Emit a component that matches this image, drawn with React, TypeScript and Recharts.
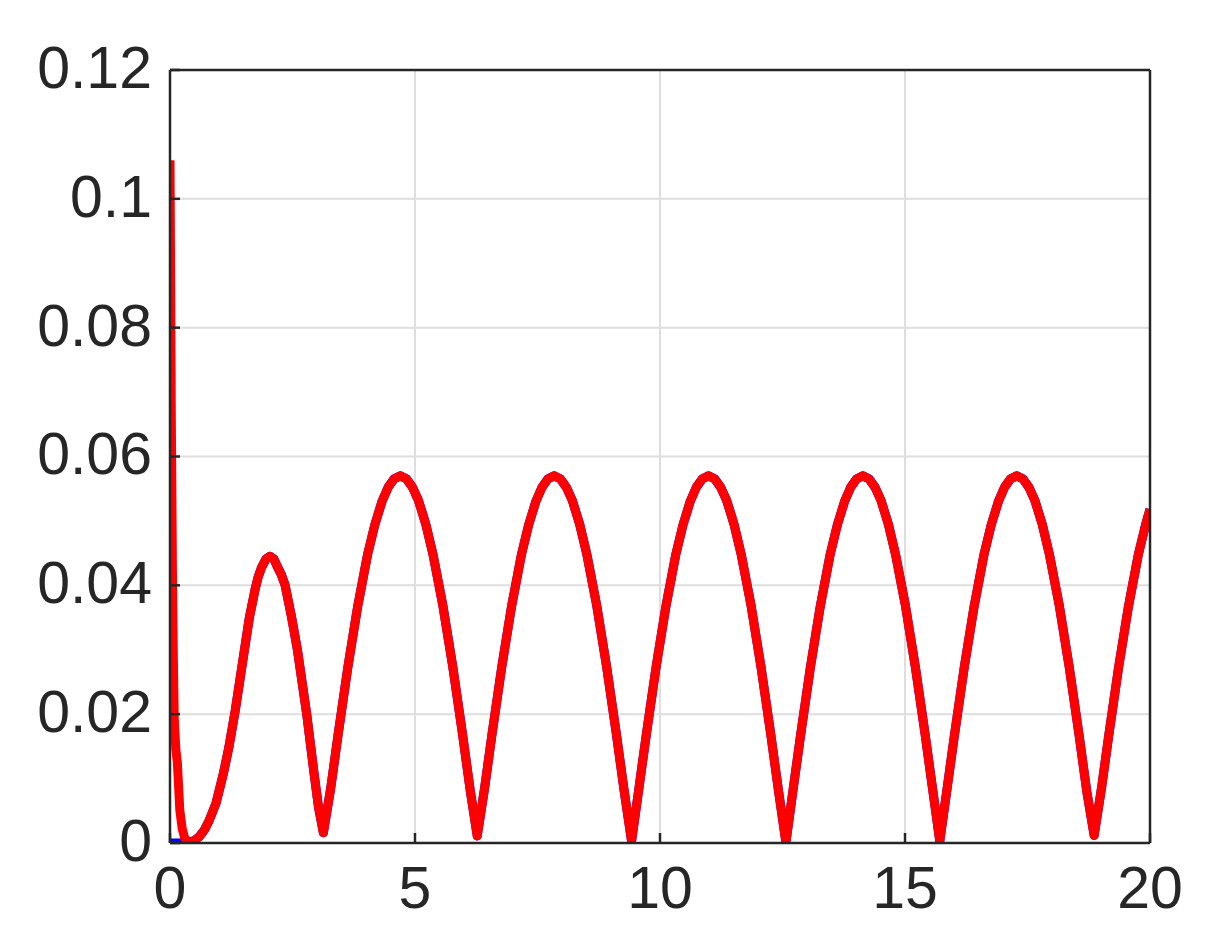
import React from 'react';
import { LineChart, Line, XAxis, YAxis, CartesianGrid } from 'recharts';

// time axis
const X_VALUES = [
  0, 0.01, 0.027, 0.05, 0.068, 0.088, 0.12, 0.15, 0.18, 0.2, 0.25, 0.3, 0.35, 0.41,
  0.5, 0.6, 0.7, 0.8, 0.94, 1.09, 1.2, 1.33, 1.42, 1.5, 1.62, 1.74, 1.8, 1.87, 1.96, 2.04, 2.12,
  2.19, 2.27, 2.35, 2.48, 2.6, 2.79, 2.94, 3.03, 3.13,
  3.28, 3.43, 3.63, 3.83, 4.03, 4.18, 4.33, 4.45, 4.57, 4.7, 4.83, 4.95, 5.07, 5.22, 5.37, 5.57, 5.77, 5.97, 6.13, 6.27,
  6.42, 6.57, 6.77, 6.97, 7.17, 7.32, 7.47, 7.59, 7.71, 7.84, 7.97, 8.09, 8.21, 8.36, 8.51, 8.71, 8.91, 9.11, 9.27, 9.42,
  9.57, 9.72, 9.92, 10.12, 10.32, 10.47, 10.62, 10.74, 10.86, 10.99, 11.12, 11.24, 11.36, 11.51, 11.66, 11.86, 12.06, 12.26, 12.42, 12.57,
  12.72, 12.87, 13.07, 13.27, 13.47, 13.62, 13.77, 13.89, 14.01, 14.14, 14.27, 14.39, 14.51, 14.66, 14.81, 15.01, 15.21, 15.41, 15.57, 15.71,
  15.86, 16.01, 16.21, 16.41, 16.61, 16.76, 16.91, 17.03, 17.15, 17.28, 17.41, 17.53, 17.65, 17.8, 17.95, 18.15, 18.35, 18.55, 18.71, 18.86,
  19.01, 19.16, 19.36, 19.56, 19.76, 19.91, 20,
];

const RED_VALUES = [
  0.106, 0.092, 0.066, 0.042, 0.029, 0.019, 0.0145, 0.0125, 0.0082, 0.0051, 0.0022, 0.0008, 0.0003, 0.0001,
  0.0004, 0.001, 0.002, 0.0035, 0.0062, 0.0108, 0.0148, 0.0205, 0.025, 0.029, 0.035, 0.0395, 0.0413, 0.0428, 0.0441, 0.0445, 0.0441,
  0.0429, 0.0417, 0.04, 0.0351, 0.03, 0.02, 0.0108, 0.0056, 0.0016,
  0.0085, 0.0168, 0.0273, 0.0367, 0.0447, 0.0494, 0.0531, 0.0552, 0.0565, 0.057, 0.0565, 0.0552, 0.0532, 0.0495, 0.0447, 0.0368, 0.0274, 0.0169, 0.008, 0.0011,
  0.0085, 0.0168, 0.0273, 0.0367, 0.0447, 0.0494, 0.0531, 0.0552, 0.0565, 0.057, 0.0565, 0.0552, 0.0532, 0.0495, 0.0447, 0.0368, 0.0274, 0.0169, 0.008, 0.0003,
  0.0085, 0.0168, 0.0273, 0.0367, 0.0447, 0.0494, 0.0531, 0.0552, 0.0565, 0.057, 0.0565, 0.0552, 0.0532, 0.0495, 0.0447, 0.0368, 0.0274, 0.0169, 0.008, 0.0001,
  0.0085, 0.0168, 0.0273, 0.0367, 0.0447, 0.0494, 0.0531, 0.0552, 0.0565, 0.057, 0.0565, 0.0552, 0.0532, 0.0495, 0.0447, 0.0368, 0.0274, 0.0169, 0.008, 0.0003,
  0.0085, 0.0168, 0.0273, 0.0367, 0.0447, 0.0494, 0.0531, 0.0552, 0.0565, 0.057, 0.0565, 0.0552, 0.0532, 0.0495, 0.0447, 0.0368, 0.0274, 0.0169, 0.008, 0.0012,
  0.0085, 0.0168, 0.0273, 0.0367, 0.0447, 0.0494, 0.0518,
];

// blue series sits at zero for the first points, then runs under the red one
const BLUE_HEAD = [0, 0, 0, 0, 0, 0, 0, 0, 0, 0, 0.0001, 0.0001, 0.0001, 0.0001];

const X_TICKS = [0, 5, 10, 15, 20];
const Y_TICKS = [0, 0.02, 0.04, 0.06, 0.08, 0.1, 0.12];
const Y_LABELS = ['0', '0.02', '0.04', '0.06', '0.08', '0.1', '0.12'];

const data = X_VALUES.map((x, i) => ({
  x,
  red: RED_VALUES[i],
  blue: i < BLUE_HEAD.length ? BLUE_HEAD[i] : RED_VALUES[i],
}));

const AXIS = '#262626';
const tickFont = { fill: AXIS, fontSize: 59, fontFamily: '"Liberation Sans", Arial, sans-serif' };
const axisLine = { stroke: AXIS, strokeWidth: 2.5 };
const tickLine = { stroke: AXIS, strokeWidth: 2.5 };

export default function App() {
  return (
    <LineChart
      width={1195}
      height={923}
      data={data}
      margin={{ top: 61, right: 52, bottom: 0, left: 0 }}
    >
      <CartesianGrid stroke="#dedede" strokeWidth={2} horizontalValues={Y_TICKS} verticalValues={X_TICKS} />
      <XAxis
        dataKey="x"
        type="number"
        domain={[0, 20]}
        ticks={X_TICKS}
        allowDataOverflow
        height={88}
        axisLine={axisLine}
        tickLine={tickLine}
        tickSize={-10}
        tickMargin={33}
        tick={tickFont}
      />
      <XAxis
        xAxisId="top"
        dataKey="x"
        type="number"
        orientation="top"
        domain={[0, 20]}
        ticks={X_TICKS}
        height={1}
        axisLine={axisLine}
        tickLine={tickLine}
        tickSize={-10}
        tick={false}
      />
      <YAxis
        type="number"
        domain={[0, 0.12]}
        ticks={Y_TICKS}
        allowDataOverflow
        width={162}
        axisLine={axisLine}
        tickLine={tickLine}
        tickSize={-10}
        tickMargin={28}
        tick={{ ...tickFont, dy: -3 }}
        tickFormatter={(v: number) => Y_LABELS[Y_TICKS.indexOf(v)] ?? String(v)}
      />
      <YAxis
        yAxisId="right"
        orientation="right"
        type="number"
        domain={[0, 0.12]}
        ticks={Y_TICKS}
        width={1}
        axisLine={axisLine}
        tickLine={tickLine}
        tickSize={-10}
        tick={false}
      />
      <Line
        type="linear"
        dataKey="blue"
        stroke="#0000ff"
        strokeWidth={9}
        strokeLinejoin="round"
        dot={false}
        isAnimationActive={false}
      />
      <Line
        type="linear"
        dataKey="red"
        stroke="#ff0000"
        strokeWidth={9}
        strokeLinejoin="round"
        dot={false}
        isAnimationActive={false}
      />
    </LineChart>
  );
}
